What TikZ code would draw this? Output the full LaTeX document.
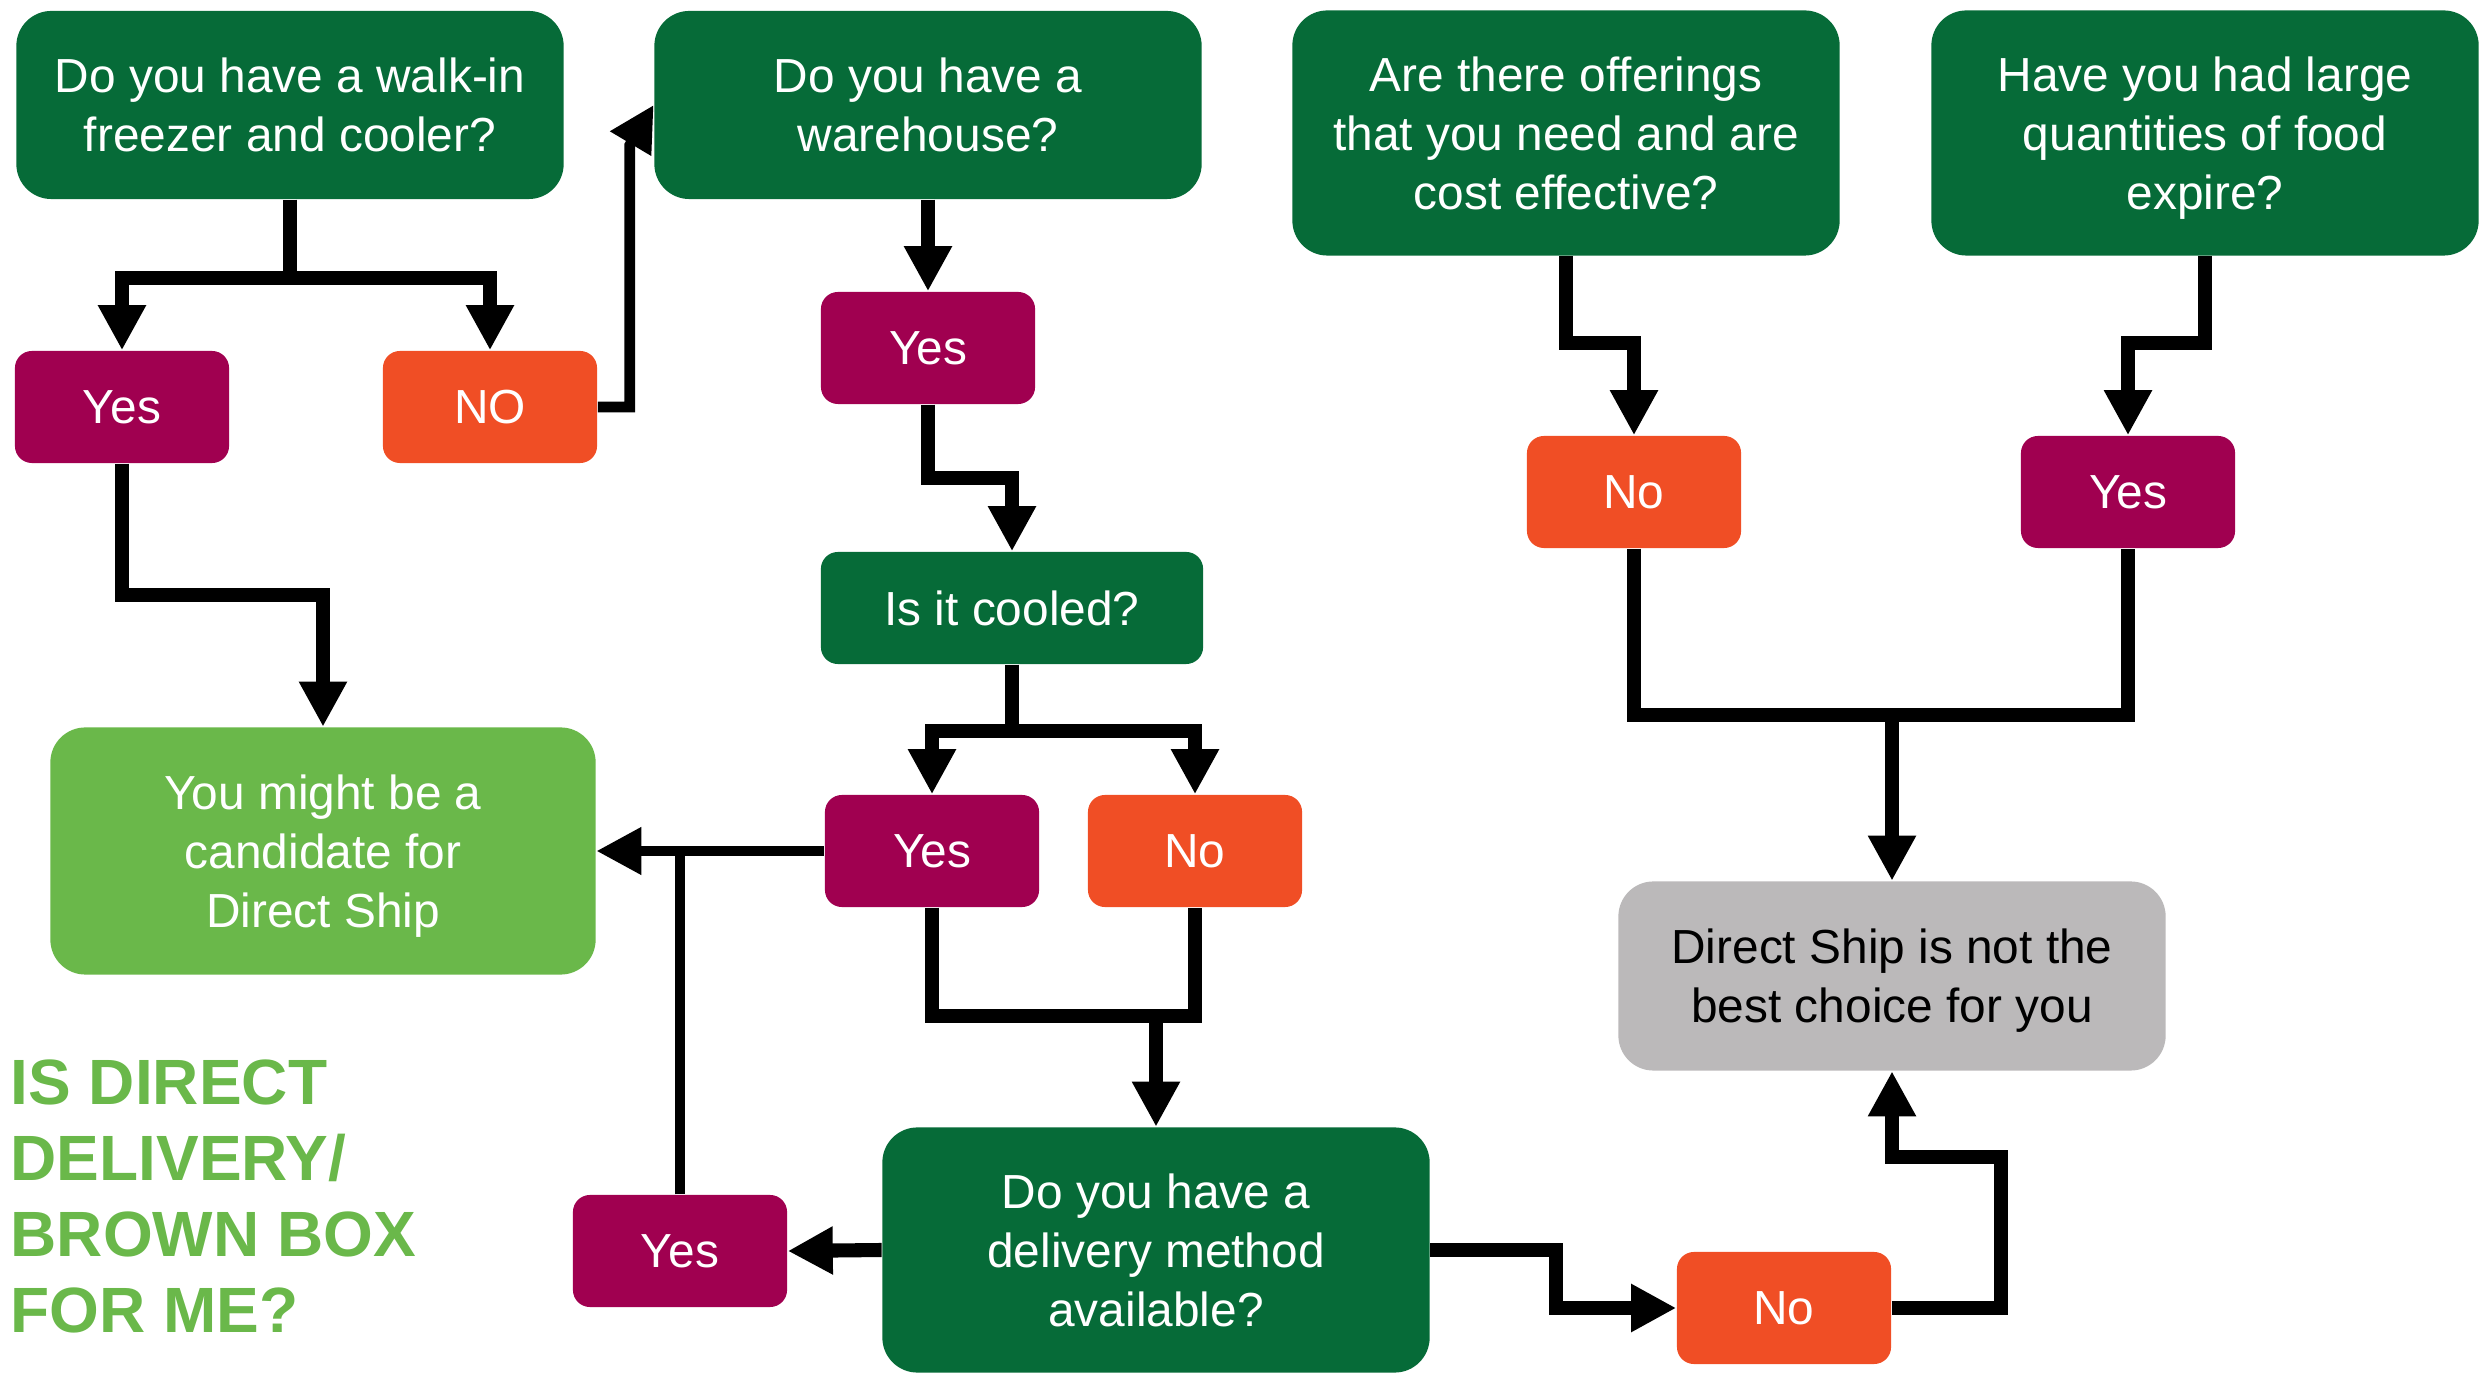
\documentclass[tikz,border=0pt]{standalone}
\usepackage{fontspec}
\setmainfont{Liberation Sans}
\usepackage{tikz}
\usetikzlibrary{arrows.meta, positioning, calc}

\definecolor{qgreen}{RGB}{6,107,56}
\definecolor{yesred}{RGB}{160,0,80}
\definecolor{noorange}{RGB}{240,78,37}
\definecolor{leafgreen}{RGB}{106,184,74}
\definecolor{endgray}{RGB}{187,185,186}

\begin{document}
\begin{tikzpicture}[x=0.01cm, y=-0.01cm,
    every node/.style={inner sep=0pt, align=center, text depth=0pt, font=\fontsize{13.6}{16.8}\selectfont},
    qbox/.style={fill=qgreen, text=white, rounded corners=0.35cm, minimum width=5.47cm},
    yesbox/.style={fill=yesred, text=white, rounded corners=0.17cm, minimum width=2.14cm, minimum height=1.12cm},
    nobox/.style={fill=noorange, text=white, rounded corners=0.17cm, minimum width=2.14cm, minimum height=1.12cm},
    link/.style={line width=4pt, line join=miter},
    thinlink/.style={line width=3pt, line join=miter},
    arrow/.style={-{Triangle[length=0.45cm, width=0.45cm]}}]
    \useasboundingbox (0,0) rectangle (2479,1374);
    % questions across the top
    \node[qbox, minimum height=1.88cm] (q1) at (290,105) {Do you have a walk-in\\freezer and cooler?};
    \node[qbox, minimum height=1.88cm] (q2) at (928,105) {Do you have a\\warehouse?};
    \node[qbox, minimum height=2.45cm] (q3) at (1566,133) {Are there offerings\\that you need and are\\cost effective?};
    \node[qbox, minimum height=2.45cm] (q4) at (2205,133) {Have you had large\\quantities of food\\expire?};
    \node[qbox, minimum width=3.82cm, minimum height=1.12cm, rounded corners=0.17cm] (cool) at (1012,608) {Is it cooled?};
    \node[qbox, minimum height=2.45cm] (deliv) at (1156,1250) {Do you have a\\delivery method\\available?};
    % answers
    \node[yesbox] (yes1) at (122,407) {Yes};
    \node[nobox] (no1) at (490,407) {NO};
    \node[yesbox] (yes2) at (928,348) {Yes};
    \node[yesbox] (yes3) at (932,851) {Yes};
    \node[nobox] (no3) at (1195,851) {No};
    \node[yesbox] (yes4) at (680,1251) {Yes};
    \node[nobox] (no4) at (1634,492) {No};
    \node[yesbox] (yes5) at (2128,492) {Yes};
    \node[nobox] (no5) at (1784,1308) {No};
    % outcomes
    \node[fill=leafgreen, text=white, rounded corners=0.35cm, minimum width=5.45cm, minimum height=2.47cm] (cand) at (323,851) {You might be a\\candidate for\\Direct Ship};
    \node[fill=endgray, rounded corners=0.35cm, minimum width=5.47cm, minimum height=1.89cm] (nb) at (1892,976) {Direct Ship is not the\\best choice for you};
    \node[anchor=base west, align=left, text=leafgreen, font=\fontsize{18.2}{21.6}\selectfont\bfseries] (title) at (10,1332) {IS DIRECT\\DELIVERY/\\BROWN BOX\\FOR ME?};
    % walk-in branch
    \draw[link] (q1.south) -- ++(0,78) coordinate (s1);
    \foreach \t in {yes1,no1} \draw[link, arrow] (s1) -| (\t.north);
    \draw[link, arrow] (yes1.south) -- ++(0,131) -| (cand.north);
    \draw[thinlink, arrow] (no1.east) -- ++(32,0) -- ++(0,-262) -- (q2.west);
    % warehouse branch
    \draw[link, arrow] (q2.south) -- (yes2.north);
    \draw[link, arrow] (yes2.south) -- ++(0,73) -| (cool.north);
    \draw[link] (cool.south) -- ++(0,66) coordinate (s2);
    \foreach \t in {yes3,no3} \draw[link, arrow] (s2) -| (\t.north);
    \draw[thinlink, arrow] (yes3.west) -- (cand.east);
    \draw[link] (yes3.south) -- ++(0,108) coordinate (j1) -| (no3.south);
    \draw[link, arrow] (j1 -| deliv.north) -- (deliv.north);
    % delivery method
    \draw[link, arrow] (deliv.west) -- (yes4.east);
    \draw[thinlink] (yes4.north) -- (yes4.north |- cand.east);
    \draw[link, arrow] (deliv.east) -- ++(126,0) |- (no5.west);
    \draw[link, arrow] (no5.east) -- ++(109,0) -- ++(0,-151) -| (nb.south);
    % offerings and expiry
    \draw[link, arrow] (q3.south) -- ++(0,87) -| (no4.north);
    \draw[link, arrow] (q4.south) -- ++(0,87) -| (yes5.north);
    \draw[link] (no4.south) -- ++(0,166) coordinate (j2) -| (yes5.south);
    \draw[link, arrow] (j2 -| nb.north) -- (nb.north);
\end{tikzpicture}
\end{document}
